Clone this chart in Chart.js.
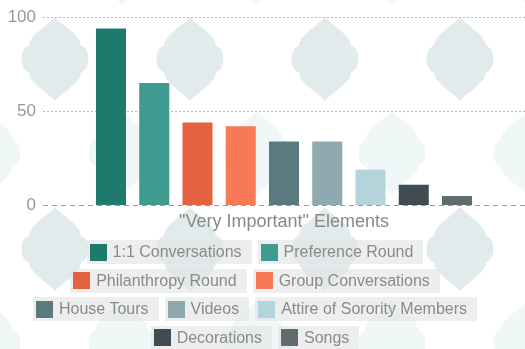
<!DOCTYPE html>
<html>
<head>
<meta charset="utf-8">
<title>"Very Important" Elements</title>
<script src="https://cdn.jsdelivr.net/npm/chart.js@4/dist/chart.umd.min.js"></script>
<style>
  html, body { margin: 0; padding: 0; background: #ffffff; }
  #wrap { position: relative; width: 525px; height: 349px; overflow: hidden; }
  #chart { position: absolute; left: 0; top: 0; }
  #legend {
    position: absolute; left: 20px; top: 240px; width: 470px;
    display: flex; flex-wrap: wrap; justify-content: center;
    column-gap: 6px; row-gap: 4.5px;
    font-family: "Liberation Sans", Arial, sans-serif; font-size: 16px; color: #8a8a8a;
  }
  #legend .item {
    display: flex; align-items: center; height: 24px;
    padding: 0 10px 0 3px; background: rgba(226, 228, 228, 0.62);
    white-space: nowrap;
  }
  #legend .item i { display: inline-block; width: 17px; height: 17px; margin-right: 6px; }
</style>
</head>
<body>
<div id="wrap">
  <canvas id="chart" width="525" height="349"></canvas>
  <div id="legend"></div>
</div>
<script>
// Share of respondents rating each recruitment element "very important"
const elements = [
  "1:1 Conversations",
  "Preference Round",
  "Philanthropy Round",
  "Group Conversations",
  "House Tours",
  "Videos",
  "Attire of Sorority Members",
  "Decorations",
  "Songs"
];
const veryImportant = [94, 65, 44, 42, 34, 34, 19, 11, 5];
const barColors = [
  "#1f7a6e", "#3f9a8f", "#e4623f", "#f77a57",
  "#5a7a80", "#8eaab0", "#b4d3da", "#3f4d53", "#5f6b6f"
];
const groupLabels = [""];
const yTicks = [0, 50, 100];
const axisTitle = '"Very Important" Elements';

Chart.defaults.font.family = '"Liberation Sans", Arial, sans-serif';

// Lantern-shaped tile used for the decorative backdrop
function tile(ctx, cx, cy) {
  ctx.beginPath();
  ctx.moveTo(cx, cy - 42);
  ctx.bezierCurveTo(cx + 6, cy - 34, cx + 26, cy - 24, cx + 26, cy - 13);
  ctx.bezierCurveTo(cx + 36, cy - 11, cx + 36, cy + 11, cx + 26, cy + 13);
  ctx.bezierCurveTo(cx + 26, cy + 24, cx + 6, cy + 34, cx, cy + 42);
  ctx.bezierCurveTo(cx - 6, cy + 34, cx - 26, cy + 24, cx - 26, cy + 13);
  ctx.bezierCurveTo(cx - 36, cy + 11, cx - 36, cy - 11, cx - 26, cy - 13);
  ctx.bezierCurveTo(cx - 26, cy - 24, cx - 6, cy - 34, cx, cy - 42);
  ctx.closePath();
  ctx.fill();
}

const backdrop = {
  id: 'backdrop',
  beforeDraw(chart) {
    const { ctx, width, height } = chart;
    ctx.save();
    ctx.fillStyle = '#ffffff';
    ctx.fillRect(0, 0, width, height);
    for (let row = -1; row < 3; row++) {
      for (let col = -1; col < 6; col++) {
        ctx.fillStyle = '#eff7f7';
        tile(ctx, 122 + col * 135, 153 + row * 190);
        ctx.fillStyle = '#e1ebec';
        tile(ctx, 55 + col * 135, 59 + row * 190);
      }
    }
    ctx.restore();
  }
};

// Dashed zero line drawn over the bar bases
const baseline = {
  id: 'baseline',
  afterDatasetsDraw(chart) {
    const { ctx, chartArea, scales } = chart;
    const y = Math.round(scales.y.getPixelForValue(0)) + 0.5;
    ctx.save();
    ctx.strokeStyle = '#9a9a9a';
    ctx.lineWidth = 1;
    ctx.setLineDash([5, 4]);
    ctx.beginPath();
    ctx.moveTo(chartArea.left, y);
    ctx.lineTo(chartArea.right, y);
    ctx.stroke();
    ctx.restore();
  }
};

// Legend rendered as HTML chips from the chart's datasets
const htmlLegend = {
  id: 'htmlLegend',
  afterUpdate(chart) {
    const box = document.getElementById('legend');
    box.innerHTML = '';
    chart.data.datasets.forEach(ds => {
      const item = document.createElement('span');
      item.className = 'item';
      const sw = document.createElement('i');
      sw.style.background = ds.backgroundColor;
      item.appendChild(sw);
      item.appendChild(document.createTextNode(ds.label));
      box.appendChild(item);
    });
  }
};

new Chart(document.getElementById('chart'), {
  type: 'bar',
  data: {
    labels: groupLabels,
    datasets: elements.map((name, i) => ({
      label: name,
      data: [veryImportant[i]],
      backgroundColor: barColors[i],
      borderWidth: 0,
      categoryPercentage: 0.8076,
      barPercentage: 0.694
    }))
  },
  options: {
    responsive: false,
    animation: false,
    devicePixelRatio: 1,
    layout: { autoPadding: false, padding: { top: 17, left: 0, right: 0, bottom: 116 } },
    scales: {
      x: {
        grid: { display: false, drawTicks: false },
        border: { display: false },
        ticks: { display: false },
        afterFit: s => { s.height = 27.6; },
        title: {
          display: true,
          text: axisTitle,
          color: '#888888',
          font: { size: 18 },
          padding: { top: 6, bottom: 0 }
        }
      },
      y: {
        min: 0,
        max: 100,
        afterBuildTicks: axis => { axis.ticks = yTicks.map(v => ({ value: v })); },
        afterFit: s => { s.width = 43; },
        border: { display: false, dash: [2, 2] },
        grid: {
          drawTicks: false,
          color: ctx => (ctx.tick && ctx.tick.value === 0) ? 'rgba(0,0,0,0)' : '#b8b8b8'
        },
        ticks: { color: '#999999', font: { size: 17 }, padding: 7 }
      }
    },
    plugins: {
      legend: { display: false },
      tooltip: { enabled: false }
    }
  },
  plugins: [backdrop, baseline, htmlLegend]
});
</script>
</body>
</html>
